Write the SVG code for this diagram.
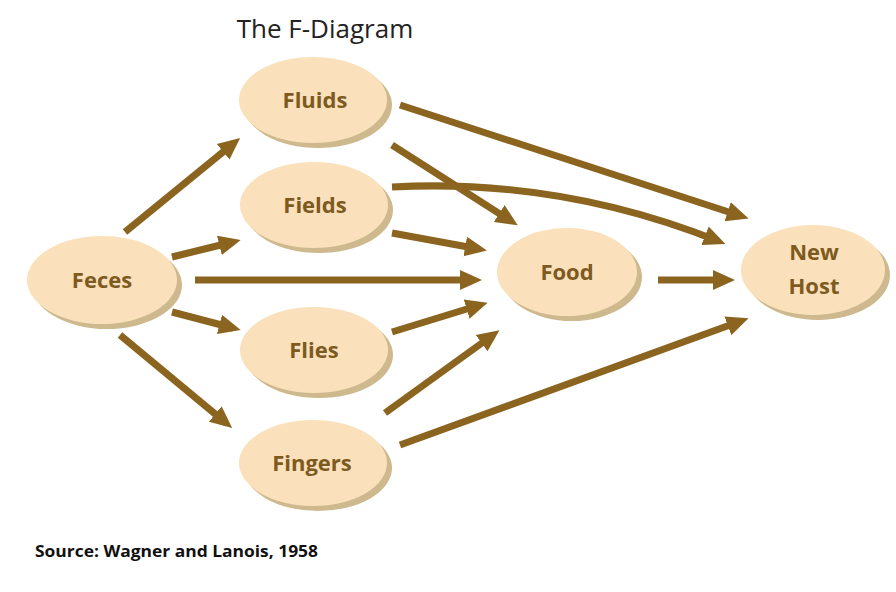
<svg xmlns="http://www.w3.org/2000/svg" width="896" height="592" viewBox="0 0 896 592">
<style>
.sh{fill:#cdb98d}
.nd{fill:#fae0bb}
.lb{font-family:"Open Sans","Liberation Sans",sans-serif;font-weight:bold;font-size:22px;fill:#7d5a1e;text-anchor:middle}
.c{stroke:#8b6420;stroke-width:7;fill:none;marker-end:url(#ah)}
</style>
<defs>
<marker id="ah" markerUnits="userSpaceOnUse" markerWidth="24" markerHeight="24" viewBox="0 -12 24 24" refX="14" refY="0" orient="auto">
<path d="M0,-10 L22,0 L0,10 z" fill="#8b6420"/>
</marker>
</defs>
<rect width="896" height="592" fill="#fff"/>
<text x="325" y="38" font-family="Open Sans,Liberation Sans,sans-serif" font-size="26" fill="#222" text-anchor="middle">The F-Diagram</text>
<g id="connectors">
<line class="c" x1="125" y1="232" x2="234" y2="143"/>
<line class="c" x1="172" y1="257" x2="233" y2="242"/>
<line class="c" x1="195" y1="280" x2="474" y2="280"/>
<line class="c" x1="172" y1="312" x2="233" y2="328"/>
<line class="c" x1="120" y1="335" x2="226" y2="423"/>
<line class="c" x1="400" y1="105" x2="741" y2="216"/>
<line class="c" x1="392" y1="145" x2="511" y2="221"/>
<path class="c" d="M392,187 Q560,178 718,241"/>
<line class="c" x1="392" y1="233" x2="479" y2="249"/>
<line class="c" x1="392" y1="332" x2="480" y2="305"/>
<line class="c" x1="385" y1="413" x2="493" y2="335"/>
<line class="c" x1="400" y1="445" x2="741" y2="321"/>
<line class="c" x1="658" y1="280" x2="727" y2="280"/>
</g>
<g id="feces"><ellipse class="sh" cx="107" cy="285" rx="75" ry="44"/><ellipse class="nd" cx="102" cy="280" rx="75" ry="44"/><text class="lb" x="102" y="288">Feces</text></g>
<g id="fluids"><ellipse class="sh" cx="318" cy="105" rx="74" ry="43"/><ellipse class="nd" cx="313" cy="100" rx="74" ry="43"/><text class="lb" x="315" y="108">Fluids</text></g>
<g id="fields"><ellipse class="sh" cx="319" cy="210" rx="74" ry="43"/><ellipse class="nd" cx="314" cy="205" rx="74" ry="43"/><text class="lb" x="315" y="213">Fields</text></g>
<g id="flies"><ellipse class="sh" cx="319" cy="355" rx="74" ry="43"/><ellipse class="nd" cx="314" cy="350" rx="74" ry="43"/><text class="lb" x="314" y="358">Flies</text></g>
<g id="fingers"><ellipse class="sh" cx="318" cy="468" rx="74" ry="43"/><ellipse class="nd" cx="313" cy="463" rx="74" ry="43"/><text class="lb" x="312" y="471">Fingers</text></g>
<g id="food"><ellipse class="sh" cx="572" cy="277" rx="70" ry="44"/><ellipse class="nd" cx="567" cy="272" rx="70" ry="44"/><text class="lb" x="567" y="280">Food</text></g>
<g id="newhost"><ellipse class="sh" cx="818" cy="275" rx="72" ry="45"/><ellipse class="nd" cx="813" cy="270" rx="72" ry="45"/><text class="lb" x="814" y="260">New</text><text class="lb" x="814" y="294">Host</text></g>
<text x="35" y="557" font-family="Open Sans,Liberation Sans,sans-serif" font-weight="bold" font-size="16" textLength="283" lengthAdjust="spacingAndGlyphs" fill="#111">Source: Wagner and Lanois, 1958</text>
</svg>
